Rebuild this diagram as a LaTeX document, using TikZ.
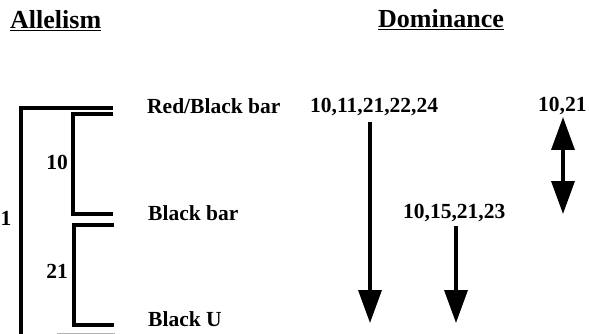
\documentclass[tikz,border=0pt]{standalone}
\usepackage{fontspec}
\setmainfont{Liberation Serif}
\usetikzlibrary{arrows.meta}

\tikzset{
  label/.style={inner sep=0pt, anchor=base west, font=\bfseries\fontsize{21.5}{24}\selectfont},
  heading/.style={inner sep=0pt, anchor=base west, font=\bfseries\fontsize{26}{28}\selectfont},
  bracket/.style={line width=3.5pt, line join=miter},
  arrowline/.style={line width=3.5pt, -{Triangle[width=23pt,length=33pt]}},
  bothline/.style={line width=3.5pt, {Triangle[width=23pt,length=33pt]}-{Triangle[width=23pt,length=33pt]}}
}

\begin{document}
\begin{tikzpicture}[x=1pt, y=-1pt]
  \useasboundingbox (0,0) rectangle (589,334);

  % column headings
  \node[heading] (hallel) at (10,29) {\underline{Allelism}};
  \node[heading] (hdom) at (378,28) {\underline{Dominance}};

  % phenotype labels
  \node[label] (redblack) at (147,114) {Red/Black bar};
  \node[label] (blackbar) at (148,220) {Black bar};
  \node[label] (blacku) at (148,326) {Black U};

  % allelism brackets
  \draw[bracket] (113,108) -- (21,108) -- (21,340);
  \draw[gray!60, line width=0.8pt] (57,333) -- (115,333);
  \draw[bracket] (113,114) -- (73,114) -- (73,214) -- (113,214);
  \draw[bracket] (114,225) -- (74,225) -- (74,325) -- (114,325);
  \node[label] (a1) at (0.5,225) {1};
  \node[label, anchor=base east] (a10) at (68,169) {10};
  \node[label, anchor=base east] (a21) at (68,278) {21};

  % dominance series
  \node[label] (d1) at (310,113) {10,11,21,22,24};
  \node[label] (d2) at (403,218) {10,15,21,23};
  \node[label] (d3) at (538,112) {10,21};

  \coordinate (d1from) at (370,122);
  \coordinate (d1to) at (370,323);
  \coordinate (d2from) at (456,226);
  \coordinate (d2to) at (456,323);
  \coordinate (d3from) at (563,117);
  \coordinate (d3to) at (563,214);

  \draw[arrowline] (d1from) -- (d1to);
  \draw[arrowline] (d2from) -- (d2to);
  \draw[bothline] (d3from) -- (d3to);
\end{tikzpicture}
\end{document}
